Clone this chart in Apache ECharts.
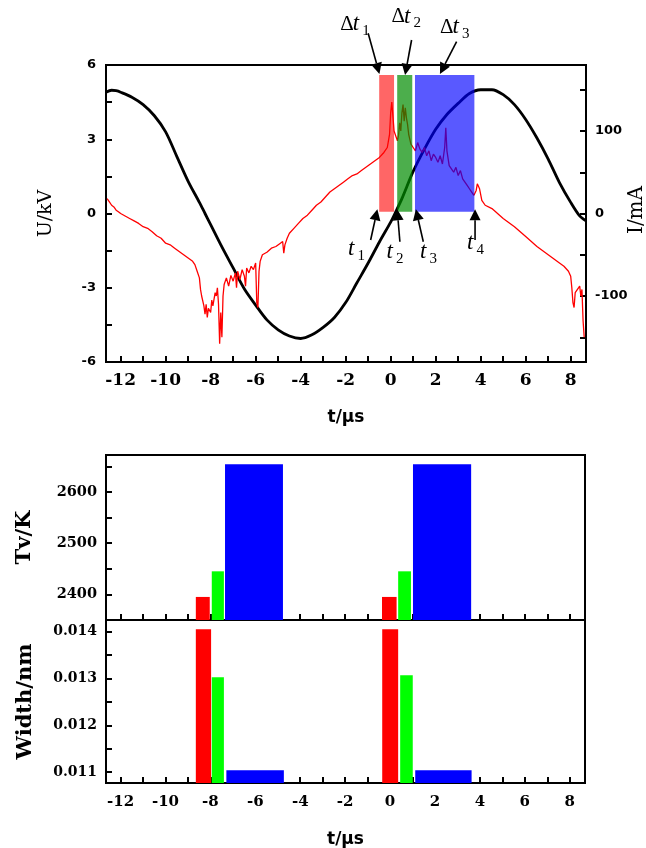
<!DOCTYPE html>
<html>
<head>
<meta charset="utf-8">
<script src="https://cdn.jsdelivr.net/npm/echarts@6/dist/echarts.min.js"></script>
<style>
  html, body { margin: 0; padding: 0; background: #fff; }
  #chart { width: 646px; height: 848px; }
</style>
</head>
<body>
<div id="chart"></div>
<script>
// ---- Discharge voltage U (kV) versus time t (μs) ----
const voltage = [
  [-12.65, 4.90], [-12.4, 4.98], [-12.2, 4.96], [-12.0, 4.90], [-11.5, 4.70], [-11.0, 4.40],
  [-10.5, 3.95], [-10.0, 3.30], [-9.5, 2.30], [-9.0, 1.30], [-8.5, 0.45], [-8.25, 0.0],
  [-8.0, -0.45], [-7.5, -1.35], [-7.0, -2.20], [-6.5, -3.05], [-6.0, -3.70], [-5.5, -4.30],
  [-5.0, -4.70], [-4.5, -4.95], [-4.0, -5.05], [-3.5, -4.90], [-3.0, -4.60], [-2.5, -4.20],
  [-2.0, -3.60], [-1.5, -2.80], [-1.0, -2.00], [-0.5, -1.15], [0.0, -0.35], [0.19, 0.0],
  [0.5, 0.60], [1.0, 1.70], [1.5, 2.60], [2.0, 3.40], [2.5, 4.00], [3.0, 4.45],
  [3.5, 4.85], [4.0, 5.00], [4.5, 5.00], [5.0, 4.80], [5.5, 4.40], [6.0, 3.80],
  [6.5, 3.05], [7.0, 2.20], [7.5, 1.25], [8.0, 0.45], [8.4, -0.10], [8.68, -0.30]
];

// ---- Discharge current I (mA) versus time t (μs) ----
const current = [
  [-12.6, 18], [-12.5, 14], [-12.4, 10], [-12.3, 8], [-12.2, 4], [-12.1, 2], [-12.0, 0],
  [-11.8, -3], [-11.6, -6], [-11.4, -9], [-11.2, -12], [-11.0, -16], [-10.8, -18],
  [-10.6, -22], [-10.4, -27], [-10.2, -30], [-10.0, -36], [-9.8, -38], [-9.6, -42],
  [-9.4, -46], [-9.2, -50], [-9.0, -54], [-8.8, -58], [-8.7, -62], [-8.6, -70],
  [-8.5, -78], [-8.45, -92], [-8.4, -100], [-8.3, -112], [-8.25, -122], [-8.2, -110],
  [-8.15, -126], [-8.1, -115], [-8.0, -120], [-7.95, -105], [-7.9, -112], [-7.8, -96],
  [-7.75, -100], [-7.7, -90], [-7.65, -110], [-7.6, -158], [-7.55, -120], [-7.5, -150],
  [-7.45, -100], [-7.4, -86], [-7.3, -78], [-7.2, -88], [-7.1, -75], [-7.0, -82],
  [-6.9, -72], [-6.85, -90], [-6.8, -70], [-6.7, -80], [-6.6, -68], [-6.5, -76],
  [-6.45, -88], [-6.4, -66], [-6.3, -72], [-6.2, -64], [-6.1, -68], [-6.0, -60],
  [-5.95, -108], [-5.9, -114], [-5.85, -70], [-5.8, -58], [-5.7, -50], [-5.5, -47],
  [-5.3, -42], [-5.1, -40], [-4.9, -36], [-4.8, -34], [-4.75, -48], [-4.7, -38],
  [-4.6, -30], [-4.5, -24], [-4.3, -18], [-4.1, -12], [-3.9, -6], [-3.7, -2],
  [-3.5, 4], [-3.3, 10], [-3.1, 14], [-2.9, 20], [-2.7, 26], [-2.5, 30], [-2.3, 34],
  [-2.1, 38], [-1.9, 42], [-1.7, 46], [-1.5, 48], [-1.3, 52], [-1.1, 56], [-0.9, 60],
  [-0.7, 64], [-0.5, 68], [-0.3, 74], [-0.15, 80], [-0.05, 96], [0.0, 122], [0.05, 135],
  [0.1, 118], [0.15, 100], [0.2, 96], [0.3, 88], [0.35, 95], [0.4, 110], [0.45, 100],
  [0.5, 122], [0.55, 132], [0.6, 112], [0.65, 128], [0.7, 116], [0.75, 108], [0.8, 96],
  [0.9, 84], [1.0, 80], [1.1, 76], [1.2, 86], [1.3, 78], [1.4, 74], [1.5, 80], [1.6, 70],
  [1.7, 76], [1.8, 64], [1.9, 72], [2.0, 68], [2.1, 62], [2.2, 70], [2.3, 60], [2.4, 80],
  [2.45, 104], [2.5, 76], [2.6, 58], [2.7, 54], [2.8, 50], [2.9, 56], [3.0, 46], [3.1, 52],
  [3.2, 42], [3.3, 38], [3.4, 34], [3.5, 30], [3.6, 26], [3.7, 22], [3.8, 28], [3.85, 36],
  [3.95, 30], [4.05, 16], [4.2, 10], [4.5, 6], [5.0, -6], [5.5, -16], [6.0, -28],
  [6.5, -40], [7.0, -50], [7.5, -60], [7.7, -64], [7.9, -70], [8.0, -76], [8.05, -90],
  [8.1, -108], [8.15, -114], [8.2, -96], [8.3, -92], [8.4, -88], [8.45, -100], [8.5, -92],
  [8.55, -130], [8.6, -150]
];

// ---- Discharge stages Δt1, Δt2, Δt3: [start, end] in μs, height in mA ----
const stageSpans = [[-0.51, 0.15], [0.29, 0.96], [1.08, 3.72]];
const stageBottom = 2;
const stageTop = 168;

// ---- Vibrational temperature Tv (K) per stage: [start μs, end μs, Tv] ----
const tvBars = [
  [-8.65, -8.03, 2395], [-7.94, -7.40, 2445], [-7.35, -4.77, 2654],
  [-0.36, 0.29, 2395], [0.36, 0.93, 2445], [1.02, 3.61, 2654]
];

// ---- Line width (nm) per stage: [start μs, end μs, width] ----
const widthBars = [
  [-8.65, -7.97, 0.01405], [-7.94, -7.40, 0.01303], [-7.29, -4.73, 0.01104],
  [-0.35, 0.36, 0.01405], [0.45, 1.01, 0.01307], [1.12, 3.63, 0.01104]
];

// ---- Axis ticks and labels ----
const timeTicks = [-12, -11, -10, -9, -8, -7, -6, -5, -4, -3, -2, -1, 0, 1, 2, 3, 4, 5, 6, 7, 8];
const timeLabels = [-12, -10, -8, -6, -4, -2, 0, 2, 4, 6, 8];
const kvTicks = [-6, -4.5, -3, -1.5, 0, 1.5, 3, 4.5, 6];
const kvLabels = [-6, -3, 0, 3, 6];
const maTicks = [-150, -100, -50, 0, 50, 100, 150];
const maLabels = [-100, 0, 100];
const tvTicks = [2400, 2450, 2500, 2550, 2600, 2650];
const tvLabels = [2400, 2500, 2600];
const widthTicks = [0.011, 0.0115, 0.012, 0.0125, 0.013, 0.0135, 0.014];
const widthLabels = [0.011, 0.012, 0.013, 0.014];

// ---- Annotation arrows (t μs, U kV): label anchor, arrow tail, arrow head ----
const stageArrows = [
  { sub: '1', label: [-2.24, 7.64], tail: [-1.00, 7.28], head: [-0.50, 5.64] },
  { sub: '2', label: [0.04, 7.96], tail: [0.93, 7.01], head: [0.64, 5.60] },
  { sub: '3', label: [2.19, 7.52], tail: [2.93, 6.94], head: [2.19, 5.64] }
];
const instantArrows = [
  { sub: '1', label: [-1.90, -1.43], tail: [-0.89, -1.07], head: [-0.59, 0.17] },
  { sub: '2', label: [-0.18, -1.56], tail: [0.41, -1.14], head: [0.29, 0.17] },
  { sub: '3', label: [1.30, -1.56], tail: [1.45, -1.14], head: [1.12, 0.17] },
  { sub: '4', label: [3.39, -1.19], tail: [3.75, -1.07], head: [3.75, 0.17] }
];

const T_MIN = -12.65, T_MAX = 8.68;
const stageFill = ['rgba(255,0,0,0.6)', 'rgba(0,140,0,0.7)', 'rgba(0,0,255,0.65)'];
const barFill = ['#ff0000', '#00ff00', '#0000ff'];

const serifBold = { fontFamily: 'DejaVu Serif', fontWeight: 'bold', color: '#000' };
const sansBold = { fontFamily: 'DejaVu Sans', fontWeight: 'bold', color: '#000' };
const centred = { align: 'center', verticalAlign: 'middle' };
const axisLineStyle = { show: true, onZero: false, lineStyle: { color: '#000', width: 2 } };
const tickStyle = (values) => ({
  show: true, inside: true, length: 6, customValues: values,
  lineStyle: { color: '#000', width: 2 }
});

function timeAxis(gridIndex, showLabels, name) {
  return {
    gridIndex, type: 'value', min: T_MIN, max: T_MAX,
    axisLine: axisLineStyle,
    axisTick: tickStyle(timeTicks),
    axisLabel: Object.assign({
      show: showLabels, customValues: timeLabels, fontSize: gridIndex === 0 ? 17 : 15,
      margin: gridIndex === 0 ? 10 : 12
    }, serifBold),
    splitLine: { show: false },
    name: name || '', nameLocation: 'middle', nameGap: gridIndex === 0 ? 47 : 48,
    nameTextStyle: Object.assign({ fontSize: 17 }, sansBold)
  };
}

function arrowElements(p0, p1) {
  const dx = p1[0] - p0[0], dy = p1[1] - p0[1];
  const len = Math.hypot(dx, dy);
  const ux = dx / len, uy = dy / len;
  const hl = 11, hw = 5.5;
  const bx = p1[0] - ux * hl, by = p1[1] - uy * hl;
  return [
    { type: 'line', shape: { x1: p0[0], y1: p0[1], x2: bx, y2: by },
      style: { stroke: '#000', lineWidth: 1.6 } },
    { type: 'polygon',
      shape: { points: [[p1[0], p1[1]], [bx - uy * hw, by + ux * hw], [bx + uy * hw, by - ux * hw]] },
      style: { fill: '#000' } }
  ];
}

function symbolText(anchor, withDelta, sub) {
  const els = [];
  let x = anchor[0];
  const y = anchor[1];
  if (withDelta) {
    els.push({ type: 'text', style: { x, y, text: 'Δ', fill: '#000',
      font: '21px "Liberation Serif"', align: 'left', verticalAlign: 'middle' } });
    x += 12.5;
  }
  els.push({ type: 'text', style: { x, y, text: 't', fill: '#000',
    font: 'italic 23px "Liberation Serif"', align: 'left', verticalAlign: 'middle' } });
  els.push({ type: 'text', style: { x: x + 9.5, y: y + 7, text: sub, fill: '#000',
    font: '15px "Liberation Serif"', align: 'left', verticalAlign: 'middle' } });
  return els;
}

function barRenderer(params, api) {
  const x0 = api.value(0), x1 = api.value(1), v = api.value(2);
  const pA = api.coord([x0, v]);
  const pB = api.coord([x1, v]);
  const cs = params.coordSys;
  const bottom = cs.y + cs.height;
  return {
    type: 'rect',
    shape: { x: pA[0], y: pA[1], width: pB[0] - pA[0], height: bottom - pA[1] },
    style: { fill: barFill[params.dataIndex % 3] }
  };
}

const chart = echarts.init(document.getElementById('chart'), null, { renderer: 'canvas' });

const gridBase = { show: true, borderColor: '#000', borderWidth: 2, containLabel: false, outerBoundsMode: 'none' };

chart.setOption({
  animation: false,
  backgroundColor: '#fff',
  grid: [
    Object.assign({ left: 106, top: 65, width: 480, height: 297 }, gridBase),
    Object.assign({ left: 106, top: 455, width: 479, height: 165 }, gridBase),
    Object.assign({ left: 106, top: 620, width: 479, height: 163 }, gridBase)
  ],
  // Title of the current axis, on the right edge, reading upwards
  graphic: [{
    type: 'text', x: 637, y: 210, rotation: Math.PI / 2,
    style: { text: 'I/mA', font: '20px "DejaVu Serif"', fill: '#000', align: 'center', verticalAlign: 'middle' }
  }],
  xAxis: [
    timeAxis(0, true, 't/μs'),
    timeAxis(1, false),
    timeAxis(2, true, 't/μs')
  ],
  yAxis: [
    {
      gridIndex: 0, type: 'value', min: -6, max: 6, position: 'left',
      axisLine: axisLineStyle, axisTick: tickStyle(kvTicks),
      axisLabel: Object.assign({ customValues: kvLabels, fontSize: 13, margin: 10 }, sansBold),
      splitLine: { show: false },
      name: 'U/kV', nameLocation: 'middle', nameGap: 60, nameRotate: 90,
      nameTextStyle: Object.assign({ fontFamily: 'DejaVu Serif', fontSize: 19, color: '#000' }, centred)
    },
    {
      gridIndex: 0, type: 'value', min: -180, max: 180, position: 'right',
      axisLine: axisLineStyle, axisTick: tickStyle(maTicks),
      axisLabel: Object.assign({ customValues: maLabels, fontSize: 13, margin: 9 }, sansBold),
      splitLine: { show: false }
    },
    {
      gridIndex: 1, type: 'value', min: 2350, max: 2672,
      axisLine: axisLineStyle, axisTick: tickStyle(tvTicks),
      axisLabel: Object.assign({
        customValues: tvLabels, fontSize: 14.5, margin: 9, formatter: (v) => String(v)
      }, serifBold),
      splitLine: { show: false },
      name: 'Tv/K', nameLocation: 'middle', nameGap: 81, nameRotate: 90,
      nameTextStyle: Object.assign({ fontSize: 21 }, serifBold, centred)
    },
    {
      gridIndex: 2, type: 'value', min: 0.01077, max: 0.01425,
      axisLine: axisLineStyle, axisTick: tickStyle(widthTicks),
      axisLabel: Object.assign({
        customValues: widthLabels, fontSize: 14, margin: 9,
        formatter: (v) => v.toFixed(3)
      }, serifBold),
      splitLine: { show: false },
      name: 'Width/nm', nameLocation: 'middle', nameGap: 80, nameRotate: 90,
      nameTextStyle: Object.assign({ fontSize: 21 }, serifBold, centred)
    }
  ],
  series: [
    {
      name: 'U', type: 'line', xAxisIndex: 0, yAxisIndex: 0, data: voltage,
      showSymbol: false, smooth: 0.3, z: 2,
      lineStyle: { color: '#000', width: 2.8 }
    },
    {
      name: 'I', type: 'line', xAxisIndex: 0, yAxisIndex: 1, data: current,
      showSymbol: false, z: 3,
      lineStyle: { color: '#ff0000', width: 1.3 }
    },
    {
      name: 'stages', type: 'custom', xAxisIndex: 0, yAxisIndex: 1, z: 4,
      data: stageSpans.map((s) => [s[0], s[1], stageBottom, stageTop]),
      encode: { x: [0, 1], y: [2, 3] },
      renderItem: (params, api) => {
        const pA = api.coord([api.value(0), api.value(3)]);
        const pB = api.coord([api.value(1), api.value(2)]);
        return {
          type: 'rect',
          shape: { x: pA[0], y: pA[1], width: pB[0] - pA[0], height: pB[1] - pA[1] },
          style: { fill: stageFill[params.dataIndex] }
        };
      }
    },
    {
      name: 'stage arrows', type: 'custom', xAxisIndex: 0, yAxisIndex: 0, z: 5,
      data: stageArrows.map((a) => a.head),
      renderItem: (params, api) => {
        const a = stageArrows[params.dataIndex];
        return {
          type: 'group',
          children: arrowElements(api.coord(a.tail), api.coord(a.head))
            .concat(symbolText(api.coord(a.label), true, a.sub))
        };
      }
    },
    {
      name: 'instant arrows', type: 'custom', xAxisIndex: 0, yAxisIndex: 0, z: 5,
      data: instantArrows.map((a) => a.head),
      renderItem: (params, api) => {
        const a = instantArrows[params.dataIndex];
        return {
          type: 'group',
          children: arrowElements(api.coord(a.tail), api.coord(a.head))
            .concat(symbolText(api.coord(a.label), false, a.sub))
        };
      }
    },
    {
      name: 'Tv', type: 'custom', xAxisIndex: 1, yAxisIndex: 2, z: 1,
      data: tvBars, encode: { x: [0, 1], y: 2 },
      renderItem: barRenderer
    },
    {
      name: 'Width', type: 'custom', xAxisIndex: 2, yAxisIndex: 3, z: 1,
      data: widthBars, encode: { x: [0, 1], y: 2 },
      renderItem: barRenderer
    }
  ]
});
</script>
</body>
</html>
